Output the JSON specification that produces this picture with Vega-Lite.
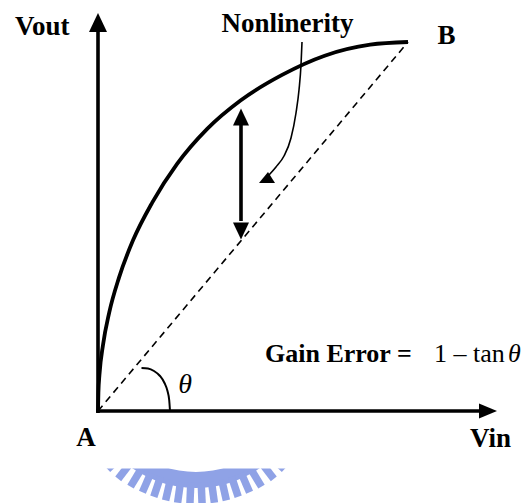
{
  "$schema": "https://vega.github.io/schema/vega-lite/v6.json",
  "width": 531,
  "height": 503,
  "autosize": {"type": "none"},
  "padding": 0,
  "background": "white",
  "view": {"stroke": null},
  "datasets": {
    "ring": [
      {"x": 17.6, "y": -31.7}, {"x": 30.5, "y": -44.4}, {"x": 45.5, "y": -54.9},
      {"x": 62.1, "y": -62.7}, {"x": 79.7, "y": -67.4}, {"x": 98, "y": -69},
      {"x": 116.3, "y": -67.4}, {"x": 133.9, "y": -62.7}, {"x": 150.5, "y": -54.9},
      {"x": 165.5, "y": -44.4}, {"x": 178.4, "y": -31.7}
    ],
    "teeth": [
      {"x": 24.5, "y": -44.2, "x2": 9.6, "y2": -58.2},
      {"x": 33.4, "y": -50.7, "x2": 20.2, "y2": -67.9},
      {"x": 43.6, "y": -57.3, "x2": 32.5, "y2": -75.6},
      {"x": 52.8, "y": -62.1, "x2": 44.4, "y2": -81.2},
      {"x": 62.4, "y": -66.0, "x2": 55.8, "y2": -85.8},
      {"x": 72.3, "y": -68.9, "x2": 67.6, "y2": -89.3},
      {"x": 82.5, "y": -70.9, "x2": 79.6, "y2": -91.7},
      {"x": 92.8, "y": -71.9, "x2": 91.9, "y2": -92.8},
      {"x": 103.2, "y": -71.9, "x2": 104.1, "y2": -92.8},
      {"x": 113.5, "y": -70.9, "x2": 116.4, "y2": -91.7},
      {"x": 123.7, "y": -68.9, "x2": 128.4, "y2": -89.3},
      {"x": 133.6, "y": -66.0, "x2": 140.2, "y2": -85.8},
      {"x": 143.2, "y": -62.1, "x2": 151.6, "y2": -81.2},
      {"x": 152.4, "y": -57.3, "x2": 163.5, "y2": -75.6},
      {"x": 162.6, "y": -50.7, "x2": 175.8, "y2": -67.9},
      {"x": 171.5, "y": -44.2, "x2": 186.4, "y2": -58.2}
    ],
    "mask": [
      {"x": -5, "y": -24, "x2": 205, "y2": -57.5}
    ],
    "transfer": [
      {"x": 0, "y": 0}, {"x": 0.4, "y": 18.4}, {"x": 1.5, "y": 36.8},
      {"x": 5.0, "y": 66.1}, {"x": 11.2, "y": 98.4}, {"x": 21.0, "y": 133.4},
      {"x": 34.9, "y": 170.4}, {"x": 54.2, "y": 208.4}, {"x": 79.1, "y": 247.1},
      {"x": 109.2, "y": 282.1}, {"x": 142.5, "y": 310.5}, {"x": 184.1, "y": 336.1},
      {"x": 226.7, "y": 355.3}, {"x": 272.2, "y": 366.3}, {"x": 310, "y": 369}
    ],
    "ideal": [
      {"x": 0, "y": 0, "x2": 310, "y2": 369}
    ],
    "shafts": [
      {"part": "vout axis", "x": 0, "y": -2, "x2": 0, "y2": 380},
      {"part": "vin axis", "x": -2, "y": 0, "x2": 383, "y2": 0},
      {"part": "nonlinearity span", "x": 143, "y": 190, "x2": 143, "y2": 286}
    ],
    "angle": [
      {"x": 43.5, "y": 43}, {"x": 50, "y": 42.5}, {"x": 56, "y": 40},
      {"x": 62, "y": 35}, {"x": 66.5, "y": 28}, {"x": 69.5, "y": 20},
      {"x": 71.2, "y": 11}, {"x": 72, "y": 0}
    ],
    "pointer": [
      {"x": 171, "y": 236}, {"x": 178, "y": 244}, {"x": 186, "y": 255},
      {"x": 193, "y": 273}, {"x": 198, "y": 298}, {"x": 201, "y": 321},
      {"x": 203, "y": 346}, {"x": 204, "y": 369}
    ],
    "heads": [
      {"dir": "up", "x": 0, "y": 388.5},
      {"dir": "right", "x": 390, "y": 0},
      {"dir": "spanTop", "x": 143, "y": 294},
      {"dir": "spanBottom", "x": 143, "y": 180},
      {"dir": "pointer", "x": 168, "y": 232}
    ]
  },
  "encoding": {
    "x": {"field": "x", "type": "quantitative", "scale": {"domain": [-98, 433], "nice": false, "zero": false}, "axis": null},
    "y": {"field": "y", "type": "quantitative", "scale": {"domain": [-92, 411], "nice": false, "zero": false}, "axis": null}
  },
  "layer": [
    {
      "data": {"name": "ring"},
      "mark": {"type": "line", "color": "#8fa2e6", "strokeWidth": 16, "interpolate": "cardinal", "strokeCap": "butt"}
    },
    {
      "data": {"name": "teeth"},
      "mark": {"type": "rule", "color": "#8fa2e6", "strokeWidth": 7.5, "strokeCap": "butt", "clip": true},
      "encoding": {"x2": {"field": "x2"}, "y2": {"field": "y2"}}
    },
    {
      "data": {"name": "mask"},
      "mark": {"type": "rect", "color": "#ffffff"},
      "encoding": {"x2": {"field": "x2"}, "y2": {"field": "y2"}}
    },
    {
      "data": {"name": "ideal"},
      "mark": {"type": "rule", "color": "#000000", "strokeWidth": 1.6, "strokeDash": [7, 5]},
      "encoding": {"x2": {"field": "x2"}, "y2": {"field": "y2"}}
    },
    {
      "data": {"name": "transfer"},
      "mark": {"type": "line", "color": "#000000", "strokeWidth": 3.8, "interpolate": "monotone"}
    },
    {
      "data": {"name": "shafts"},
      "mark": {"type": "rule", "color": "#000000", "strokeWidth": 3.6, "strokeCap": "butt"},
      "encoding": {"x2": {"field": "x2"}, "y2": {"field": "y2"}}
    },
    {
      "data": {"name": "angle"},
      "mark": {"type": "line", "color": "#000000", "strokeWidth": 2, "interpolate": "monotone"}
    },
    {
      "data": {"name": "pointer"},
      "mark": {"type": "line", "color": "#000000", "strokeWidth": 1.6, "interpolate": "monotone"}
    },
    {
      "data": {"name": "heads"},
      "mark": {"type": "point", "filled": true, "opacity": 1, "size": 400, "color": "#000000", "strokeWidth": 0},
      "encoding": {
        "shape": {
          "field": "dir",
          "type": "nominal",
          "legend": null,
          "scale": {
            "domain": ["up", "right", "spanTop", "spanBottom", "pointer"],
            "range": [
              "M0,-0.95L0.9,0.95L-0.9,0.95Z",
              "M0.9,0L-0.9,0.75L-0.9,-0.75Z",
              "M0,-0.85L0.8,0.85L-0.8,0.85Z",
              "M0,0.85L0.8,-0.85L-0.8,-0.85Z",
              "M-0.7,0.4L0.9,0.4L0.2,-0.7Z"
            ]
          }
        }
      }
    },
    {
      "data": {"values": [
        {"label": "Vout", "x": -83, "y": 376},
        {"label": "Vin", "x": 372, "y": -36}
      ]},
      "mark": {"type": "text", "font": "Liberation Serif", "fontSize": 27, "fontWeight": "bold", "align": "left", "baseline": "alphabetic", "color": "#000000"},
      "encoding": {"text": {"field": "label"}}
    },
    {
      "data": {"values": [
        {"label": "Gain Error =", "x": 167, "y": 49}
      ]},
      "mark": {"type": "text", "font": "Liberation Serif", "fontSize": 26, "fontWeight": "bold", "align": "left", "baseline": "alphabetic", "color": "#000000"},
      "encoding": {"text": {"field": "label"}}
    },
    {
      "data": {"values": [
        {"label": "Nonlinerity", "x": 189.5, "y": 379},
        {"label": "B", "x": 348.5, "y": 367},
        {"label": "A", "x": -12, "y": -35}
      ]},
      "mark": {"type": "text", "font": "Liberation Serif", "fontSize": 27, "fontWeight": "bold", "align": "center", "baseline": "alphabetic", "color": "#000000"},
      "encoding": {"text": {"field": "label"}}
    },
    {
      "data": {"values": [
        {"label": "1 – tan", "x": 336, "y": 49}
      ]},
      "mark": {"type": "text", "font": "Liberation Serif", "fontSize": 26, "align": "left", "baseline": "alphabetic", "color": "#000000"},
      "encoding": {"text": {"field": "label"}}
    },
    {
      "data": {"values": [
        {"label": "θ", "x": 410, "y": 49}
      ]},
      "mark": {"type": "text", "font": "Liberation Serif", "fontSize": 26, "fontStyle": "italic", "align": "left", "baseline": "alphabetic", "color": "#000000"},
      "encoding": {"text": {"field": "label"}}
    },
    {
      "data": {"values": [
        {"label": "θ", "x": 87, "y": 18}
      ]},
      "mark": {"type": "text", "font": "Liberation Serif", "fontSize": 28, "fontStyle": "italic", "align": "center", "baseline": "alphabetic", "color": "#000000"},
      "encoding": {"text": {"field": "label"}}
    }
  ]
}
